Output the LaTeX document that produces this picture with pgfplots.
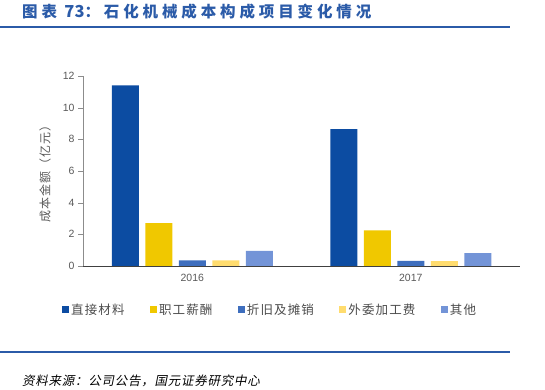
\documentclass[border=0pt]{standalone}
\usepackage{fontspec}
\usepackage{pgfplots}
\pgfplotsset{compat=1.18}
\setmainfont{Liberation Sans}
\newfontfamily\cjk{Noto Sans CJK SC}
\newfontfamily\cjkt[LetterSpace=25]{Noto Sans CJK SC}
\newfontfamily\cjkl[LetterSpace=9]{Noto Sans CJK SC}
\newfontfamily\cjkit[FakeSlant=0.2,LetterSpace=6]{Noto Sans CJK SC}
\definecolor{titleblue}{RGB}{43,91,168}
\definecolor{ca}{RGB}{12,76,162}
\definecolor{cb}{RGB}{240,200,0}
\definecolor{cc}{RGB}{62,110,190}
\definecolor{cd}{RGB}{255,220,110}
\definecolor{ce}{RGB}{115,148,215}
\definecolor{txtgray}{RGB}{89,89,89}
\begin{document}
\begin{tikzpicture}[x=1pt,y=1pt]
\path[use as bounding box] (0,0) rectangle (545,390);
\node[anchor=west, text=titleblue, font=\bfseries\fontsize{15.5}{15.5}\selectfont, inner sep=0pt] at (22,378) {{\cjkt\bfseries 图表 }{\cjk\bfseries\fontsize{16.5}{16.5}\selectfont 73}{\cjkt\bfseries ：石化机械成本构成项目变化情况}};
\draw[titleblue, line width=1.5pt] (0,363) -- (510,363);
\draw[titleblue, line width=1.5pt] (0,38) -- (510,38);
\node[anchor=west, font=\cjkit\fontsize{12.5}{12.5}\selectfont, inner sep=0pt] at (22,9) {资料来源：公司公告，国元证券研究中心};
\begin{axis}[
  at={(83pt,124pt)}, anchor=south west,
  scale only axis, width=437pt, height=190pt,
  ybar, bar width=27pt, ybar=6.5pt,
  ymin=0, ymax=12, xmin=-0.5, xmax=1.5,
  xtick={0,1}, xticklabels={2016,2017},
  ytick={0,2,...,12},
  axis x line*=bottom, axis y line*=left,
  x axis line style={draw=black!75, line width=0.8pt, -},
  y axis line style={draw=black!45, -},
  x tick style={draw=none},
  y tick style={draw=black!45},
  tick align=outside,
  major tick length=5pt,
  tick label style={font=\fontsize{10.5}{12}\selectfont, text=txtgray},
  /pgf/number format/assume math mode=true,
  ylabel={\cjkl 成本金额（亿元）},
  ylabel style={at={(axis description cs:-0.087,0.5)}, anchor=center, font=\fontsize{12}{12}\selectfont, text=txtgray},
  legend style={at={(-0.048,-0.23)}, anchor=west, draw=none, inner sep=0pt, legend columns=5,
    font=\cjkl\fontsize{12.5}{13}\selectfont, text=black!70,
    /tikz/every even column/.append style={column sep=23.5pt}},
  legend image code/.code={\fill[#1] (0pt,-3.5pt) rectangle (7pt,3.5pt);},
]
\addplot[fill=ca, draw=none] coordinates {(0,11.4) (1,8.65)};
\addplot[fill=cb, draw=none] coordinates {(0,2.7) (1,2.25)};
\addplot[fill=cc, draw=none] coordinates {(0,0.35) (1,0.33)};
\addplot[fill=cd, draw=none] coordinates {(0,0.35) (1,0.3)};
\addplot[fill=ce, draw=none] coordinates {(0,0.95) (1,0.82)};
\legend{直接材料,职工薪酬,折旧及摊销,外委加工费,其他}
\end{axis}
\end{tikzpicture}
\end{document}
